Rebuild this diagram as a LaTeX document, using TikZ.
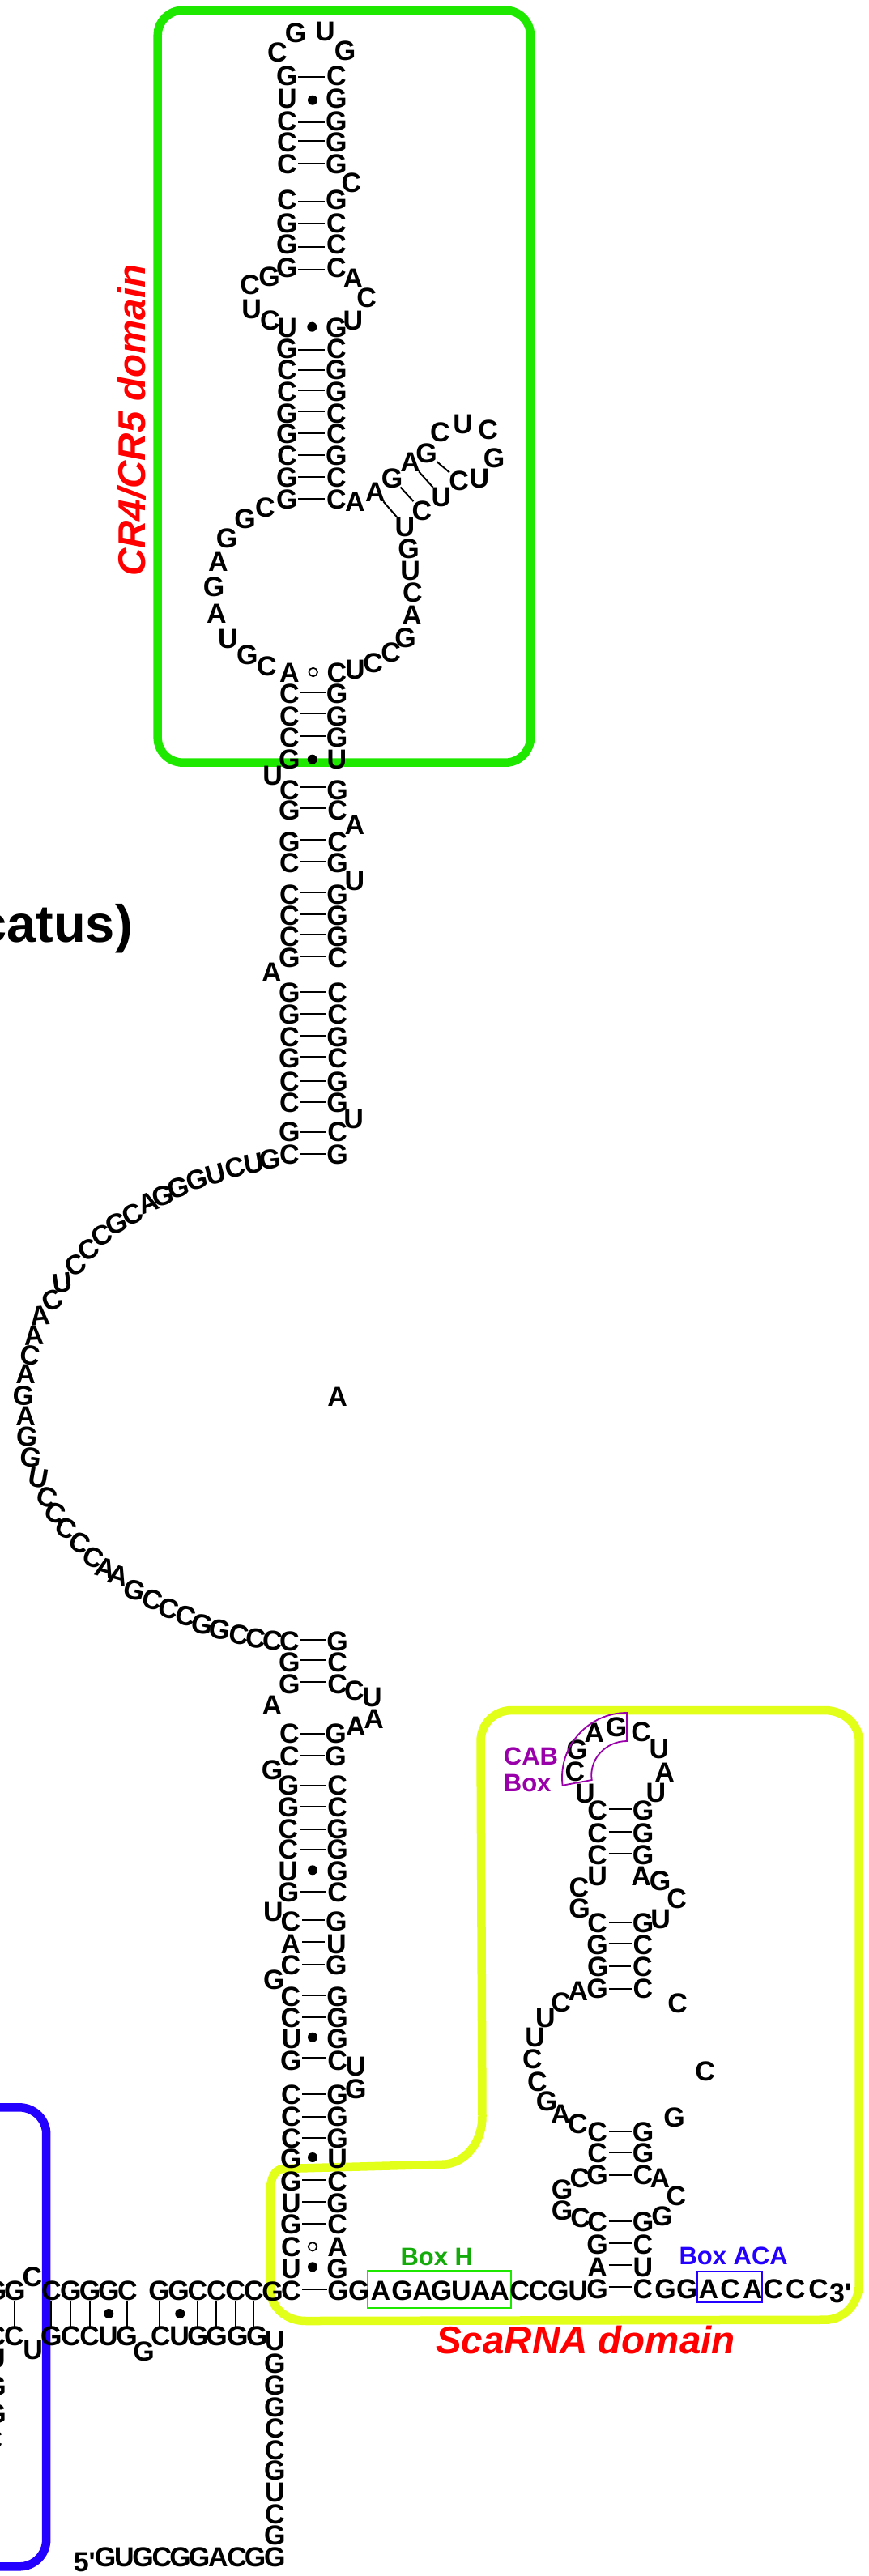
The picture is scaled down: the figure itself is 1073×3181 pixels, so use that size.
\documentclass[tikz,border=0pt]{standalone}
\usepackage{fontspec}
\newfontfamily\lib{Liberation Sans}
\definecolor{gbox}{RGB}{31,232,0}
\definecolor{ybox}{RGB}{226,255,26}
\definecolor{bbox}{RGB}{36,0,255}
\definecolor{boxh}{RGB}{20,170,10}
\definecolor{cab}{RGB}{153,0,170}
\newcounter{nn}
\tikzset{
  nt/.style={inner sep=0pt,text height=24.3pt,text depth=0pt,font=\lib\bfseries\fontsize{34}{34}\selectfont,text=black},
  lab/.style={inner sep=0pt,text height=22pt,text depth=0pt,font=\lib\bfseries\fontsize{31}{31}\selectfont},
  dom/.style={inner sep=0pt,text=red,font=\lib\bfseries\itshape\fontsize{47.5}{47.5}\selectfont},
  bpl/.style={line width=2pt,shorten <=14pt,shorten >=14pt},
  vpl/.style={line width=2pt,shorten <=14pt,shorten >=11.5pt},
  dl/.style={line width=2pt,shorten <=-1pt,shorten >=-1pt},
  dotf/.style={circle,fill=black,inner sep=0pt,minimum size=12pt},
  doto/.style={circle,draw=black,line width=1.7pt,fill=white,inner sep=0pt,minimum size=10.5pt},
  dombox/.style={line width=10.5pt,line join=round},
  frm/.style={line width=1.8pt}
}
\newcommand{\nuc}[3]{\stepcounter{nn}\node[nt] (n\arabic{nn}) at (#1,#2) {#3};}
\newcommand{\nucr}[4]{\stepcounter{nn}\node[nt,rotate=#1] (n\arabic{nn}) at (#2,#3) {#4};}
% pair with line: xl xr y L R yline
\newcommand{\pr}[6]{%
  \stepcounter{nn}\edef\na{n\arabic{nn}}\node[nt] (\na) at (#1,#3) {#4};%
  \stepcounter{nn}\edef\nb{n\arabic{nn}}\node[nt] (\nb) at (#2,#3) {#5};%
  \draw[bpl] (\na.center |- 0,#6) -- (\nb.center |- 0,#6);}
% pair with dot: xl xr y L R dotx doty style
\newcommand{\prd}[8]{%
  \stepcounter{nn}\node[nt] (n\arabic{nn}) at (#1,#3) {#4};%
  \stepcounter{nn}\node[nt] (n\arabic{nn}) at (#2,#3) {#5};%
  \stepcounter{nn}\node[#8] (n\arabic{nn}) at (#6,#7) {};}
% vertical pair in the lower row: xtop L xbot R
\newcommand{\vpr}[4]{%
  \stepcounter{nn}\edef\na{n\arabic{nn}}\node[nt] (\na) at (#1,2828) {#2};%
  \stepcounter{nn}\edef\nb{n\arabic{nn}}\node[nt] (\nb) at (#3,2884.3) {#4};%
  \draw[vpl] (\na.center) -- (\na.center |- \nb.center);}
% diagonal pair: x y L x y L
\newcommand{\dpr}[6]{%
  \stepcounter{nn}\edef\na{n\arabic{nn}}\node[nt] (\na) at (#1,#2) {#3};%
  \stepcounter{nn}\edef\nb{n\arabic{nn}}\node[nt] (\nb) at (#4,#5) {#6};%
  \draw[dl] (\na) -- (\nb);}
\begin{document}
\begin{tikzpicture}[x=1pt,y=-1pt]
\useasboundingbox (0,0) rectangle (1073,3181);
% domain boxes
\draw[dombox,draw=gbox,rounded corners=31pt] (194.7,12.7) rectangle (655,941.7);
\draw[dombox,draw=ybox] (595.5,2613.3) -- (593.5,2150)
  .. controls (593.5,2129) and (610.7,2112) .. (631.7,2112)
  -- (1018.3,2112) .. controls (1041.7,2112) and (1060.7,2129) .. (1060.7,2150)
  -- (1060.7,2820) .. controls (1060.7,2845) and (1041.7,2864.7) .. (1018.3,2864.7)
  -- (377,2866) .. controls (353,2866) and (333.7,2848.5) .. (333.7,2827)
  -- (333.7,2706.7) .. controls (333.7,2690) and (339,2678.5) .. (350,2678)
  -- (546.7,2672.7) .. controls (574,2672) and (595.5,2646) .. cycle;
\draw[dombox,draw=bbox] (-20,2602.3) -- (24,2602.3)
  .. controls (42,2602.3) and (57.2,2617) .. (57.2,2635)
  -- (57.2,3136) .. controls (57.2,3155) and (42,3169.3) .. (24,3169.3) -- (-20,3169.3);
% titles
\node[inner sep=0pt,anchor=base east,font=\lib\bfseries\fontsize{65}{65}\selectfont] (title) at (164,1163) {catus)};
\node[dom,rotate=90,anchor=base] (dcr) at (179.3,519) {CR4/CR5 domain};
\node[dom,anchor=base] (dsc) at (723,2906.7) {ScaRNA domain};
% CR4/CR5 apical part
\nuc{342.3}{64}{C}\nuc{365}{40.7}{G}\nuc{401.3}{38.7}{U}\nuc{426}{62}{G}
\pr{354.3}{415.3}{93.3}{G}{C}{95}
\prd{354.3}{415.3}{121.7}{U}{G}{386}{123.7}{dotf}
\pr{354.3}{415.3}{149}{C}{G}{150.7}
\pr{354.3}{415.3}{175.7}{C}{G}{173.7}
\pr{354.3}{415.3}{202.7}{C}{G}{202}
\nuc{434}{225}{C}
\pr{354.3}{415.3}{246.7}{C}{G}{249}
\pr{354.3}{415.3}{275}{G}{C}{275.7}
\pr{354.3}{415.3}{301.7}{G}{C}{305}
\pr{354.3}{415.3}{330.7}{G}{C}{332.7}
\nuc{308.7}{351.7}{C}\nuc{332.7}{341.7}{G}\nuc{436}{343.3}{A}\nuc{452.7}{367.7}{C}
\nuc{310.7}{381}{U}\nuc{333.3}{395.7}{C}\nuc{436}{395}{U}
\prd{354.7}{415.3}{404}{U}{G}{385.3}{403.7}{dotf}
\pr{354.3}{415.3}{430}{G}{C}{431.7}
\pr{354.3}{415.3}{456}{C}{G}{456.7}
\pr{354.3}{415.3}{483.3}{C}{G}{481.7}
\pr{354.3}{415.3}{510}{G}{C}{508.3}
\pr{354.3}{415.3}{535.3}{G}{C}{535.3}
\pr{354.3}{415.3}{562.3}{C}{G}{562.3}
\pr{354.3}{415.3}{589.3}{G}{C}{589}
\pr{354.3}{415.3}{616}{G}{C}{615.7}
% internal loop
\nuc{438.3}{619.3}{A}
\dpr{463.3}{607.7}{A}{500}{650}{U}
\dpr{484}{590}{G}{521}{630.7}{C}
\dpr{506.7}{570.7}{A}{545}{613.3}{U}
\dpr{526.7}{559.3}{G}{566.7}{593.3}{C}
\nuc{543.3}{533.3}{C}\nuc{571.7}{523.3}{U}\nuc{602.7}{530.7}{C}\nuc{610}{565}{G}\nuc{592}{590}{U}
\nuc{504.7}{677.3}{G}\nuc{506.7}{704}{U}\nuc{509.3}{731.7}{C}\nuc{508.7}{759.3}{A}
\nuc{500.7}{787.3}{G}\nuc{482.7}{805}{C}\nuc{460.7}{818.3}{C}\nuc{438.3}{826.7}{U}
\nuc{329.3}{822.7}{C}\nuc{305.3}{808.3}{G}\nuc{281.3}{788.3}{U}\nuc{267.3}{757.3}{A}
\nuc{264}{724.3}{G}\nuc{269.3}{693.3}{A}\nuc{280}{664}{G}\nuc{302.7}{640}{G}\nuc{327.3}{626.7}{C}
\prd{357.3}{416}{830}{A}{C}{386.7}{830}{doto}
\pr{357.3}{416}{856.7}{C}{G}{854.7}
\pr{357.3}{416}{884}{C}{G}{881}
\pr{357.3}{416}{910.7}{C}{G}{909}
\prd{357.3}{416}{937.3}{G}{U}{385.7}{937.7}{dotf}
% long stem
\nuc{336.7}{957}{U}
\pr{357.3}{416.7}{975}{C}{G}{971.7}
\pr{357.3}{416.7}{1000.7}{G}{C}{998.3}
\nuc{438}{1018.3}{A}
\pr{357.3}{416.7}{1039}{G}{C}{1037.3}
\pr{357.3}{416.7}{1065}{C}{G}{1064}
\nuc{438}{1087.3}{U}
\pr{357.3}{416.7}{1104}{C}{G}{1102.3}
\pr{357.3}{416.7}{1130}{C}{G}{1129}
\pr{357.3}{416.7}{1156.7}{C}{G}{1154.3}
\pr{357.3}{416.7}{1182.7}{G}{C}{1181}
\nuc{335.3}{1200.7}{A}
\pr{357.3}{416.7}{1225.7}{G}{C}{1225.3}
\pr{357.3}{416.7}{1252.7}{G}{C}{1252}
\pr{357.3}{416.7}{1280}{C}{G}{1278.7}
\pr{357.3}{416.7}{1306.7}{G}{C}{1305}
\pr{357.3}{416.7}{1335}{C}{G}{1334.7}
\pr{357.3}{416.7}{1361.7}{C}{G}{1361}
\nuc{436.7}{1381}{U}
\pr{357.3}{416.7}{1397.7}{G}{C}{1398.3}
\pr{357.3}{416.7}{1425}{C}{G}{1425}
% single strand arc
\nucr{5}{333.3}{1431}{G}\nucr{10}{313}{1436.7}{U}\nucr{15}{290}{1441.7}{C}\nucr{15}{266.7}{1450}{U}
\nucr{15}{243.3}{1456.7}{G}\nucr{15}{220}{1466}{G}\nucr{15}{201}{1476.7}{G}\nucr{20}{183.3}{1485}{A}
\nucr{25}{163.3}{1499.3}{C}\nucr{20}{143.3}{1510.7}{G}\nucr{25}{125}{1525}{C}\nucr{30}{109.3}{1543.3}{C}
\nucr{30}{93.3}{1561.7}{C}\nucr{8}{76.7}{1583.3}{U}\nucr{25}{64}{1605}{C}\nucr{5}{50}{1624}{A}
\nucr{3}{42}{1648.3}{A}\nucr{-8}{37.3}{1673.3}{C}\nucr{0}{31.7}{1696.7}{A}\nucr{-3}{29.3}{1722.7}{G}
\nucr{0}{31.7}{1748.3}{A}\nucr{-5}{33.3}{1773.3}{G}\nucr{-8}{38.3}{1799.3}{G}\nucr{-10}{47.7}{1824.3}{U}
\nucr{-20}{58.3}{1848.3}{C}\nucr{-22}{68.3}{1868.3}{C}\nucr{-25}{81.7}{1886.7}{C}\nucr{-25}{98.3}{1905}{C}
\nucr{-22}{115}{1923.3}{C}\nucr{-15}{130.7}{1936}{A}\nucr{-15}{146.7}{1945}{A}\nucr{-15}{166.7}{1962.7}{G}
\nucr{-15}{188.3}{1975}{C}\nucr{-15}{209}{1986}{C}\nucr{-15}{230}{1995}{C}\nucr{-12}{250}{2005}{G}
\nucr{-10}{271.7}{2012.3}{G}\nucr{-8}{295}{2018.3}{C}\nucr{-6}{315.7}{2022.7}{C}\nucr{-5}{336.7}{2025}{C}
\nuc{416.7}{1724}{A}
% lower stem
\pr{357.3}{416.7}{2026}{C}{G}{2025}
\pr{357.3}{416.7}{2052.3}{G}{C}{2050.3}
\pr{357.3}{416.7}{2079}{G}{C}{2077}
\nuc{437.3}{2087.3}{C}\nuc{459.3}{2095}{U}\nuc{336}{2105}{A}\nuc{461.7}{2122.7}{A}\nuc{439.3}{2131.7}{A}
\pr{357.3}{414.7}{2140.7}{C}{G}{2140.7}
\pr{357.3}{414.7}{2168.3}{C}{G}{2167.7}
\nuc{336}{2185}{G}
\pr{356}{416.7}{2204}{G}{C}{2205.3}
\pr{356}{416.7}{2231}{G}{C}{2231}
\pr{356}{416.7}{2258.3}{C}{G}{2259}
\pr{356}{416.7}{2283.3}{C}{G}{2284.3}
\prd{356}{416.7}{2310}{U}{G}{386}{2309.3}{dotf}
\pr{356}{416.7}{2336}{G}{C}{2336}
\nuc{337.3}{2360}{U}
\pr{359}{415.3}{2372.7}{C}{G}{2371.3}
\pr{359}{415.3}{2400}{A}{U}{2397.7}
\pr{359}{415.3}{2426.7}{C}{G}{2425.7}
\nuc{338.3}{2444.3}{G}
\pr{359}{416.7}{2465}{C}{G}{2464.3}
\pr{359}{416.7}{2491.7}{C}{G}{2491}
\prd{360}{416.7}{2517.3}{U}{G}{386}{2515.7}{dotf}
\pr{359.3}{416.7}{2544}{G}{C}{2540.7}
\nuc{439.3}{2551.7}{U}\nuc{439.3}{2579.3}{G}
\pr{359.3}{416.7}{2586}{C}{G}{2585.7}
\pr{359.3}{416.7}{2613.3}{C}{G}{2613.7}
\pr{359.3}{416.7}{2640}{C}{G}{2640.3}
\prd{359.3}{416.7}{2665.7}{G}{U}{386}{2664}{dotf}
\pr{359.3}{416.7}{2693.3}{G}{C}{2692.3}
\pr{359.3}{416.7}{2720}{U}{G}{2719.3}
\pr{359.3}{416.7}{2746.7}{G}{C}{2746.3}
\prd{359.3}{416.7}{2774.3}{C}{A}{386}{2774.3}{doto}
\prd{359.3}{416.7}{2801}{U}{G}{386}{2799.3}{dotf}
\pr{359.3}{417.5}{2828.3}{C}{G}{2827.3}
% Box H and following strand
\node[draw=gbox,frm,inner sep=0pt,minimum width=176.7pt,minimum height=46pt] (hbox) at (542.35,2827) {};
\node[lab,text=boxh] (hlab) at (539.3,2786) {Box H};
\nuc{443.3}{2828.3}{G}
\nuc{470}{2828.3}{A}\nuc{496.7}{2828.3}{G}\nuc{521.7}{2828.3}{A}\nuc{545}{2828.3}{G}\nuc{569.3}{2828.3}{U}\nuc{593.3}{2828.3}{A}\nuc{616.7}{2828.3}{A}
\nuc{641.7}{2828.3}{C}\nuc{665}{2828.3}{C}\nuc{689.3}{2828.3}{G}\nuc{714}{2828.3}{U}
\pr{737.7}{794}{2826.7}{G}{C}{2824.3}
\nuc{821.7}{2826.7}{G}\nuc{848.3}{2826.7}{G}
\node[draw=bbox,frm,inner sep=0pt,minimum width=79.7pt,minimum height=38.3pt] (abox) at (900.85,2824.15) {};
\node[lab,text=bbox] (alab) at (905.7,2785.7) {Box ACA};
\nuc{875}{2826.7}{A}\nuc{901.7}{2826.7}{C}\nuc{929.3}{2826.7}{A}
\nuc{955}{2826.7}{C}\nuc{982.3}{2826.7}{C}\nuc{1010.7}{2826.7}{C}
\node[nt] (tp) at (1037.7,2831.7) {3'};
% ScaRNA hairpin, lower part
\pr{737.7}{794}{2799.3}{A}{U}{2797.3}
\pr{737.7}{794}{2771.7}{G}{C}{2770}
\pr{737.7}{794}{2743.3}{C}{G}{2743.3}
\nuc{716.7}{2738.3}{C}\nuc{694}{2729.3}{G}\nuc{817.7}{2736}{G}\nuc{835}{2711.7}{C}\nuc{694}{2703.3}{G}\nuc{716}{2689}{C}
\pr{737.7}{794}{2685}{G}{C}{2686}
\nuc{815}{2689}{A}
\pr{737.7}{794}{2658.3}{C}{G}{2657.7}
\pr{737.7}{794}{2632.7}{C}{G}{2631.7}
\nuc{713.3}{2622.7}{C}\nuc{692.3}{2610.7}{A}\nuc{675}{2594}{G}\nuc{663.3}{2570}{C}\nuc{657.3}{2542.7}{C}
\nuc{832.7}{2614.3}{G}\nuc{870.7}{2557.7}{C}\nuc{836.7}{2473.3}{C}
\nuc{660.7}{2515}{U}\nuc{673.3}{2491.7}{U}\nuc{692.7}{2472.7}{C}\nuc{714}{2458.3}{A}
\pr{737.7}{794}{2455}{G}{C}{2455.7}
\pr{738.3}{793.3}{2428.3}{G}{C}{2428.3}
\pr{737.7}{794}{2401.7}{G}{C}{2400.3}
\pr{737.7}{794}{2374.3}{C}{G}{2374.3}
\nuc{815.7}{2369.3}{U}\nuc{835.7}{2344.3}{C}\nuc{815}{2322.3}{G}\nuc{791.7}{2316}{A}\nuc{737.7}{2316}{U}\nuc{715}{2330.7}{C}\nuc{715.7}{2356.7}{G}
\pr{737.7}{794}{2290}{C}{G}{2289.3}
\pr{737.7}{794}{2263.3}{C}{G}{2261.7}
\pr{737.7}{794}{2235.7}{C}{G}{2234.3}
\nuc{722.3}{2214}{U}\nuc{810}{2213.3}{U}\nuc{820.7}{2188.3}{A}\nuc{814}{2159.3}{U}\nuc{791.7}{2138.3}{C}
\nuc{761}{2132.7}{G}\nuc{734}{2139.3}{A}\nuc{712.7}{2160}{G}\nuc{710}{2187.7}{C}
% CAB box
\draw[draw=cab,line width=1.8pt,line join=miter] (694.6,2204.7) .. controls (688.8,2157.1) and (726,2115) .. (774,2115)
  -- (774,2150) .. controls (747.6,2150) and (726.9,2172.7) .. (730.7,2198) -- cycle;
\node[lab,text=cab,anchor=west] (cab1) at (621.7,2168.3) {CAB};
\node[lab,text=cab,anchor=west] (cab2) at (621.7,2201) {Box};
% junction, upper and lower rows
\nuc{-5}{2828}{G}
\vpr{18.3}{G}{17.3}{C}
\nuc{-5}{2884.3}{C}
\nuc{40}{2811}{C}\nuc{40.7}{2901.7}{U}
\vpr{63.3}{C}{63.3}{G}
\vpr{87.3}{G}{87.3}{C}
\vpr{111}{G}{110.7}{C}
\prd{134.3}{134.3}{2828}{G}{}{134.3}{2857}{dotf}
\nuc{133.3}{2884.3}{U}
\vpr{157.3}{C}{156.7}{G}
\nuc{177.7}{2903.7}{G}
\vpr{196.7}{G}{198.3}{C}
\prd{220.7}{220.7}{2828}{G}{}{222.3}{2857}{dotf}
\nuc{221.7}{2884.3}{U}
\vpr{244}{C}{244.3}{G}
\vpr{267.3}{C}{267.7}{G}
\vpr{290.7}{C}{293.3}{G}
\vpr{313.3}{C}{317.3}{G}
\nuc{336.7}{2829}{G}
% 5' strand
\nuc{339.3}{2890.3}{U}\nuc{339.3}{2918.7}{G}\nuc{339.3}{2945.3}{G}\nuc{339.3}{2972}{G}\nuc{339.3}{2998.3}{C}
\nuc{339.3}{3025}{C}\nuc{339.3}{3050.3}{G}\nuc{339.3}{3077}{U}\nuc{339.3}{3104.3}{C}\nuc{339.3}{3130.3}{G}\nuc{339.3}{3157}{G}
\nuc{130}{3157}{G}\nuc{153.3}{3157}{U}\nuc{176.7}{3157}{G}\nuc{200}{3157}{C}\nuc{222.7}{3157}{G}\nuc{246}{3157}{G}\nuc{269.3}{3157}{A}\nuc{292.7}{3157}{C}\nuc{315}{3157}{G}
\node[nt] (fp) at (104.3,3163.7) {5'};
% column cut by the left edge
\nuc{-5.5}{2912.7}{U}\nuc{-5.5}{2946}{G}\nuc{-5.5}{2980}{G}\nuc{-9}{3012.7}{C}
\end{tikzpicture}
\end{document}
